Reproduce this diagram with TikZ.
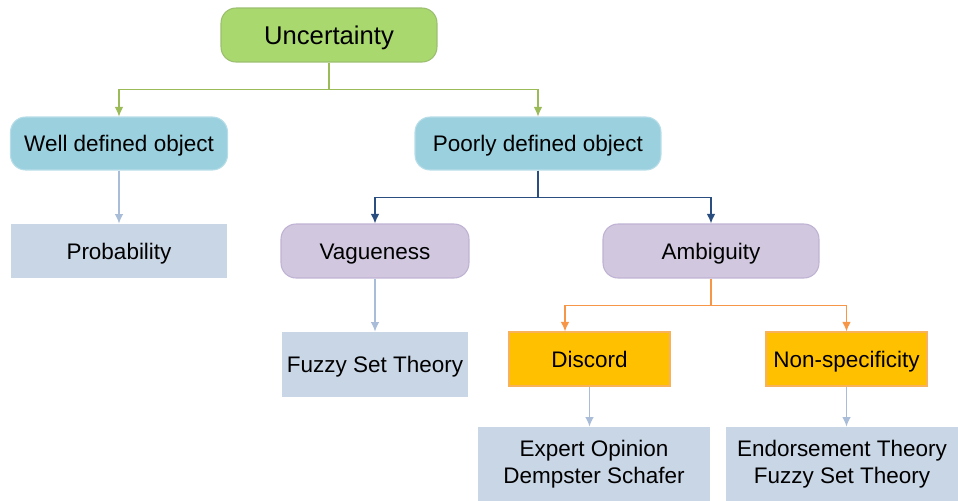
\documentclass[tikz,border=0pt]{standalone}
\usepackage{fontspec}
\setmainfont{Liberation Sans}
\usetikzlibrary{arrows.meta}

\definecolor{ugreen}{HTML}{A9D86E}
\definecolor{ugreenln}{HTML}{9BBB59}
\definecolor{oblue}{HTML}{9BD0DE}
\definecolor{obluebd}{HTML}{B7DDE8}
\definecolor{vpurple}{HTML}{D1C8E0}
\definecolor{vpurplebd}{HTML}{BFB2D3}
\definecolor{tgrey}{HTML}{C9D6E6}
\definecolor{tgreyln}{HTML}{A9BCD8}
\definecolor{dorange}{HTML}{FFC000}
\definecolor{dorangebd}{HTML}{F9B25C}
\definecolor{dorangeln}{HTML}{F79646}
\definecolor{pdark}{HTML}{2A4E80}

\begin{document}
\begin{tikzpicture}[x=0.02cm,y=-0.02cm,>={Latex[length=1.9mm,width=1.7mm]},
  every node/.style={inner sep=0pt,align=center,font=\fontsize{12.8}{15.4}\selectfont},
  oneline/.style={text height=9.2pt,text depth=0pt},
  rbox/.style={oneline,rounded corners=0.3cm,draw,line width=0.6pt},
  tbox/.style={fill=tgrey,minimum height=1.08cm}]

\useasboundingbox (0,0) rectangle (958,501);

\node[rbox,fill=ugreen,draw=ugreen!85!black!90,minimum width=4.32cm,minimum height=1.08cm,
  font=\fontsize{14.6}{17}\selectfont,text height=10.5pt] (unc) at (329,35) {Uncertainty};

\node[rbox,fill=oblue,draw=obluebd,minimum width=4.34cm,minimum height=1.06cm] (well) at (119,143.5) {Well defined object};
\node[rbox,fill=oblue,draw=obluebd,minimum width=4.92cm,minimum height=1.06cm] (poor) at (538,143.5) {Poorly defined object};

\node[tbox,oneline,minimum width=4.32cm] (prob) at (119,251) {Probability};
\node[rbox,fill=vpurple,draw=vpurplebd,minimum width=3.76cm,minimum height=1.08cm] (vag) at (375,251) {Vagueness};
\node[rbox,fill=vpurple,draw=vpurplebd,minimum width=4.32cm,minimum height=1.08cm] (amb) at (711,251) {Ambiguity};

\node[tbox,oneline,minimum width=3.74cm,minimum height=1.3cm] (fuzzy) at (375,364.5) {Fuzzy Set Theory};
\node[oneline,fill=dorange,draw=dorangebd,line width=0.6pt,minimum width=3.22cm,minimum height=1.08cm] (disc) at (589.5,359) {Discord};
\node[oneline,fill=dorange,draw=dorangebd,line width=0.6pt,minimum width=3.22cm,minimum height=1.08cm] (nonsp) at (846.5,359) {Non-specificity};

\node[tbox,minimum width=4.64cm,minimum height=1.48cm] (expert) at (594,464) {Expert Opinion\\Dempster Schafer};
\node[tbox,minimum width=4.64cm,minimum height=1.48cm] (endo) at (842,464) {Endorsement Theory\\Fuzzy Set Theory};


\draw [->,ugreenln,line width=0.6pt] (unc.south) -- +(0,27) -| (well.north);
\draw [->,ugreenln,line width=0.6pt] (unc.south) -- +(0,27) -| (poor.north);

\draw [->,pdark,line width=0.8pt] (poor.south) -- +(0,27) -| (vag.north);
\draw [->,pdark,line width=0.8pt] (poor.south) -- +(0,27) -| (amb.north);

\draw [->,dorangeln,line width=0.8pt] (amb.south) -- +(0,27) -| ([xshift=-0.49cm]disc.north);
\draw [->,dorangeln,line width=0.8pt] (amb.south) -- +(0,27) -| (nonsp.north);

\draw [->,tgreyln,line width=0.8pt] (well.south) -- (prob.north);
\draw [->,tgreyln,line width=0.8pt] (vag.south) -- (fuzzy.north);
\draw [->,tgreyln,line width=0.8pt] (disc.south) -- (disc.south |- expert.north);
\draw [->,tgreyln,line width=0.8pt] (nonsp.south) -- (nonsp.south |- endo.north);

\end{tikzpicture}
\end{document}
